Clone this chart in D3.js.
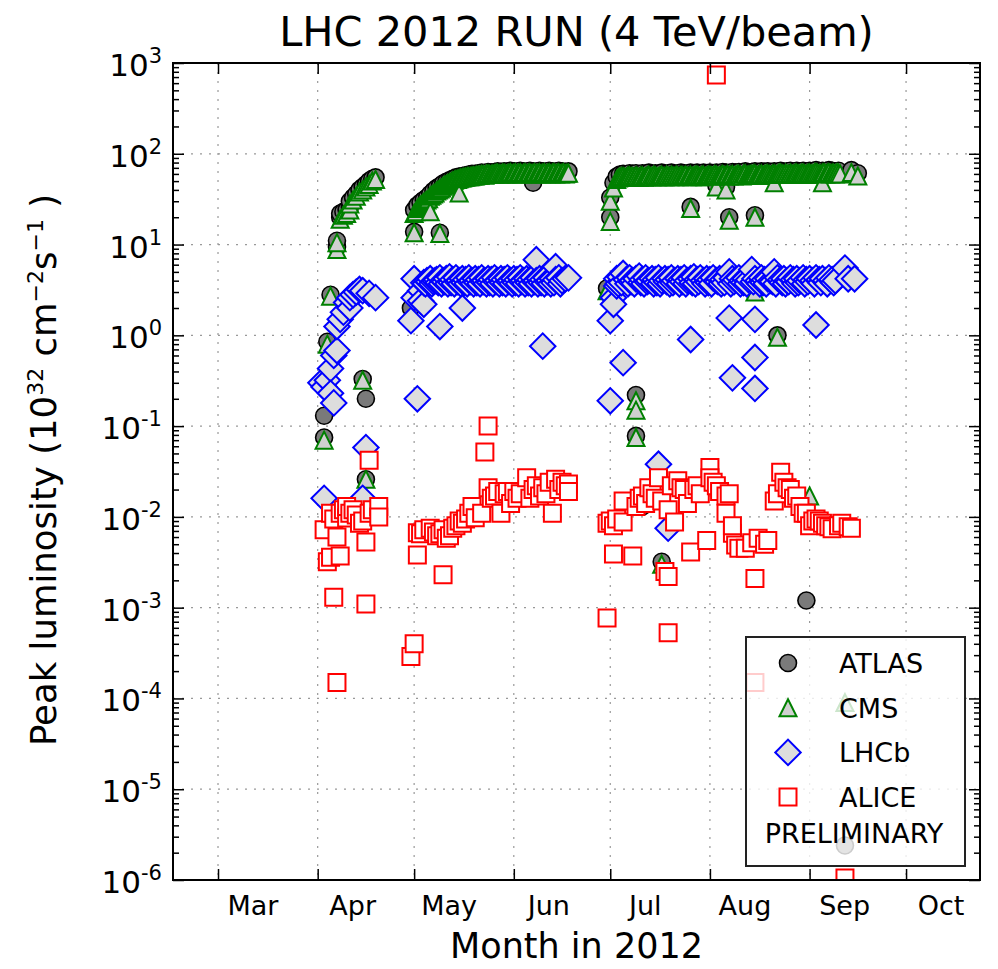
<!DOCTYPE html>
<html>
<head>
<meta charset="utf-8">
<script src="https://cdn.jsdelivr.net/npm/d3@7"></script>
<style>
body { margin: 0; background: #fff; }
svg { font-family: "DejaVu Sans", sans-serif; }
</style>
</head>
<body>
<svg id="chart" width="998" height="969"></svg>
<script>
// peak luminosity per fill, in 1e32 cm^-2 s^-1 ("MM-DD" or "MM-DD HH")
const atlas = [
  ["04-03",0.13],["04-03",0.075],["04-04",0.85],["04-05",2.8],["04-07",9.4],["04-07",11],
  ["04-08",20],["04-08",22],["04-09",23],["04-10",24],["04-11",26],["04-11",30],["04-12",33],
  ["04-13",36],["04-14",40],["04-15",43],["04-16",46],["04-17",50],["04-18",53],["04-19",55],
  ["04-15",0.33],["04-16",0.2],["04-16",0.026],
  ["04-30",2.0],["05-01",13.8],["05-09",13.5],
  ["05-01",24],["05-02",27],["05-03",29],["05-04",31],["05-05",33],["05-06",36],["05-07",39],
  ["05-08",42],["05-09",44],["05-10",47],["05-11",49],["05-12",51],["05-13",53],["05-14",55],
  ["05-15",56],["05-16",57],["05-17",58],["05-18",59],["05-19",60],["05-20",60],["05-21",61],
  ["05-22",62],["05-23",61],["05-24",63],["05-25",62],["05-26",63],["05-27",64],["05-28",63],
  ["05-29",64],["05-30",63],["05-31",65],["06-01",64],["06-02",63],["06-03",65],["06-04",64],
  ["06-05",63],["06-06",65],["06-07",48],["06-07",64],["06-08",63],["06-09",65],["06-10",64],
  ["06-11",63],["06-12",65],["06-13",64],["06-14",63],["06-15",65],["06-16",64],["06-17",63],["06-18",64],
  ["06-30",3.3],["07-01",20],["07-01",33],["07-02",48],["07-03",56],["07-04",59],["07-05",60],
  ["07-06",59],["07-07",61],["07-08",60],["07-09",0.22],["07-09",0.078],["07-09",61],["07-10",59],
  ["07-11",0.013],["07-11",61],["07-12",60],["07-13",62],["07-14",60],["07-15",61],["07-16",60],
  ["07-17",0.0032],["07-17",62],["07-18",60],["07-19",61],["07-20",62],["07-21",60],["07-22",61],
  ["07-23",62],["07-24",61],["07-25",60],["07-26",26],["07-26",62],["07-27",61],["07-28",62],
  ["07-29",60],["07-30",62],["07-31",61],["08-01",62],["08-02",61],["08-03",45],["08-03",62],
  ["08-04",61],["08-05",63],["08-06",43],["08-06",62],["08-07",20],["08-07",61],["08-08",63],
  ["08-09",62],["08-10",63],["08-11",61],["08-12",64],["08-13",62],["08-14",63],["08-15",21],
  ["08-15",64],["08-16",62],["08-17",64],["08-18",63],["08-19",64],["08-20",62],["08-21",64],
  ["08-22",1.0],["08-22",63],["08-23",65],["08-24",63],["08-25",64],["08-26",65],["08-27",63],
  ["08-28",65],["08-29",64],["08-30",65],["08-31",0.0012],["08-31",63],["09-01",65],["09-02",64],
  ["09-03",66],["09-04",64],["09-05",65],["09-06",64],["09-07",66],["09-08",65],["09-09",64],
  ["09-10",65],["09-12",2.4e-6],["09-14",66],["09-16",61]
];
const cms = [
  ["04-03",0.07],["04-04",0.8],["04-05",2.7],["04-07",8.8],["04-07",10.5],["04-08",19],
  ["04-09",21],["04-10",22],["04-11",24],["04-11",28],["04-12",31],["04-13",34],["04-14",38],
  ["04-15",40],["04-16",43],["04-17",46],["04-18",50],["04-19",52],["04-15",0.32],["04-16",0.026],
  ["05-01",13.5],["05-09",13.2],["05-01",22],["05-02",25],["05-03",27],["05-04",29],["05-05",31],
  ["05-06",23],["05-06",34],["05-07",36],["05-08",39],["05-09",41],["05-10",44],["05-11",46],
  ["05-12",48],["05-13",50],["05-14",52],["05-15",37],["05-15",53],["05-16",54],["05-17",55],
  ["05-18",56],["05-19",57],["05-20",57],["05-21",58],["05-22",59],["05-23",58],["05-24",60],
  ["05-25",59],["05-26",60],["05-27",61],["05-28",60],["05-29",61],["05-30",60],["05-31",62],
  ["06-01",61],["06-02",60],["06-03",62],["06-04",61],["06-05",60],["06-06",62],["06-07",61],
  ["06-08",60],["06-09",62],["06-10",61],["06-11",60],["06-12",62],["06-13",61],["06-14",60],
  ["06-15",62],["06-16",61],["06-17",60],["06-18",61],
  ["05-01 12",23],["05-02 12",26],["05-03 12",28],["05-04 12",30],["05-05 12",32],["05-06 12",35],
  ["05-07 12",37],["05-08 12",40],["05-09 12",42],["05-10 12",45],["05-11 12",47],["05-12 12",49],
  ["05-13 12",51],["05-14 12",52],["05-15 12",54],["05-16 12",55],["05-17 12",56],["05-18 12",56],
  ["05-19 12",57],["05-20 12",58],["05-21 12",58],["05-22 12",59],["05-23 12",60],["05-24 12",59],
  ["05-25 12",60],["05-26 12",61],["05-27 12",60],["05-28 12",61],["05-29 12",60],["05-30 12",61],
  ["05-31 12",60],["06-01 12",62],["06-02 12",61],["06-03 12",60],["06-04 12",62],["06-05 12",61],
  ["06-06 12",60],["06-07 12",62],["06-08 12",61],["06-09 12",60],["06-10 12",62],["06-11 12",61],
  ["06-12 12",60],["06-13 12",62],["06-14 12",61],["06-15 12",60],["06-16 12",62],["06-17 12",61],
  ["06-30",3.1],["07-01",18],["07-01",30],["07-02",42],["07-03",52],["07-04",55],["07-05",56],
  ["07-06",55],["07-07",57],["07-08",56],["07-09",0.19],["07-09",0.15],["07-09",0.075],["07-09",57],
  ["07-10",55],["07-11",57],["07-12",56],["07-13",58],["07-14",56],["07-15",57],["07-16",56],
  ["07-17",0.003],["07-17",58],["07-18",56],["07-19",57],["07-20",58],["07-21",56],["07-22",57],
  ["07-23",58],["07-24",57],["07-25",56],["07-26",25],["07-26",58],["07-27",57],["07-28",58],
  ["07-29",56],["07-30",58],["07-31",57],["08-01",58],["08-02",57],["08-03",43],["08-03",58],
  ["08-04",57],["08-05",59],["08-06",40],["08-06",58],["08-07",18.5],["08-07",57],["08-08",59],
  ["08-09",58],["08-10",59],["08-11",57],["08-12",60],["08-13",58],["08-14",59],["08-15",20],
  ["08-15",3.0],["08-15",60],["08-16",58],["08-17",60],["08-18",59],["08-19",60],["08-20",58],
  ["08-21",48],["08-21",60],["08-22",0.95],["08-22",59],["08-23",61],["08-24",59],["08-25",60],
  ["08-26",61],["08-27",59],["08-28",61],["08-29",60],["08-30",61],["08-31",59],["09-01",0.017],
  ["09-01",61],["09-02",60],["09-03",62],["09-04",60],["09-05",48],["09-05",61],["09-06",60],
  ["09-07",62],["09-08",61],["09-09",60],["09-10",61],["09-12",9e-5],["09-14",62],["09-16",57],
  ["07-03 12",54],["07-04 12",56],["07-05 12",55],["07-06 12",57],["07-07 12",56],["07-08 12",55],
  ["07-09 12",56],["07-10 12",57],["07-11 12",55],["07-12 12",57],["07-13 12",56],["07-14 12",58],
  ["07-15 12",56],["07-16 12",57],["07-17 12",56],["07-18 12",58],["07-19 12",56],["07-20 12",57],
  ["07-21 12",58],["07-22 12",56],["07-23 12",57],["07-24 12",58],["07-25 12",57],["07-26 12",56],
  ["07-27 12",58],["07-28 12",57],["07-29 12",58],["07-30 12",56],["07-31 12",58],["08-01 12",57],
  ["08-02 12",59],["08-03 12",57],["08-04 12",58],["08-05 12",57],["08-06 12",59],["08-07 12",58],
  ["08-08 12",57],["08-09 12",59],["08-10 12",58],["08-11 12",60],["08-12 12",58],["08-13 12",59],
  ["08-14 12",60],["08-15 12",58],["08-16 12",59],["08-17 12",58],["08-18 12",60],["08-19 12",59],
  ["08-20 12",60],["08-21 12",59],["08-22 12",61],["08-23 12",60],["08-24 12",61],["08-25 12",59],
  ["08-26 12",60],["08-27 12",61],["08-28 12",60],["08-29 12",61],["08-30 12",60],["08-31 12",61],
  ["09-01 12",60],["09-02 12",62],["09-03 12",61],["09-04 12",60],["09-05 12",62],["09-06 12",61],
  ["09-07 12",60],["09-08 12",61],["09-09 12",62],["09-10 12",60]
];
const lhcb = [
  ["04-02",0.3],["04-03",0.016],["04-03",0.27],["04-04",0.32],["04-05",0.43],["04-05",0.23],
  ["04-06",0.18],["04-06",0.6],["04-07",0.68],["04-07",1.25],["04-08",1.5],["04-09",1.8],
  ["04-10",2.3],["04-11",2.0],["04-11",2.6],["04-12",2.8],["04-13",3.0],["04-14",3.2],
  ["04-15",3.1],["04-15",0.016],["04-16",0.058],["04-17",2.9],["04-19",2.6],
  ["04-30",1.45],["05-01",4.2],["05-01",2.6],["05-02",0.2],["05-03",3.1],["05-03",2.4],
  ["05-04",2.2],["05-09",1.25],["05-16",2.0],
  ["05-04",3.8],["05-05",4.0],["05-06",4.2],["05-07",3.9],["05-08",4.1],["05-09",4.3],
  ["05-10",4.0],["05-11",4.2],["05-12",4.4],["05-13",4.1],["05-14",4.3],["05-15",4.0],
  ["05-16",4.2],["05-17",4.1],["05-18",4.3],["05-19",4.0],["05-20",4.2],["05-21",4.1],
  ["05-22",4.3],["05-23",4.0],["05-24",4.2],["05-25",4.1],["05-26",4.3],["05-27",4.0],
  ["05-28",4.2],["05-29",4.1],["05-30",4.3],["05-31",4.0],["06-01",4.2],["06-02",4.1],
  ["06-03",4.3],["06-04",4.0],["06-05",4.2],["06-06",4.1],["06-07",4.3],["06-08",6.8],
  ["06-08",4.0],["06-09",4.2],["06-10",0.76],["06-10",4.1],["06-11",4.3],["06-12",4.0],
  ["06-13",4.2],["06-14",5.7],["06-14",4.1],["06-15",4.3],["06-16",4.0],["06-17",4.2],["06-18",4.3],
  ["05-04 12",3.7],["05-05 12",3.9],["05-06 12",3.7],["05-07 12",4.0],["05-08 12",3.8],["05-09 12",3.7],
  ["05-10 12",3.9],["05-11 12",3.7],["05-12 12",3.8],["05-13 12",3.7],["05-14 12",3.9],["05-15 12",3.7],
  ["05-16 12",3.8],["05-17 12",3.7],["05-18 12",3.9],["05-19 12",3.7],["05-20 12",3.8],["05-21 12",3.7],
  ["05-22 12",3.9],["05-23 12",3.7],["05-24 12",3.8],["05-25 12",3.7],["05-26 12",3.9],["05-27 12",3.7],
  ["05-28 12",3.8],["05-29 12",3.7],["05-30 12",3.9],["05-31 12",3.7],["06-01 12",3.8],["06-02 12",3.7],
  ["06-03 12",3.9],["06-04 12",3.7],["06-05 12",3.8],["06-06 12",3.7],["06-07 12",3.9],["06-08 12",3.7],
  ["06-09 12",3.8],["06-10 12",3.7],["06-11 12",3.9],["06-12 12",3.7],["06-13 12",3.8],["06-15 12",3.7],
  ["07-01",0.19],["07-01",1.45],["07-02",2.6],["07-02",2.2],["07-03",3.5],["07-05",0.5],
  ["07-16",0.038],["07-19",0.0075],["07-26",0.9],["08-07",1.55],["08-08",0.34],["08-15",1.5],
  ["08-15",0.57],["08-15",0.26],["09-03",1.3],
  ["07-03",4.2],["07-04",4.4],["07-05",4.8],["07-06",4.1],["07-07",4.3],["07-08",4.0],
  ["07-09",4.2],["07-10",4.5],["07-11",4.1],["07-12",4.3],["07-13",4.0],["07-14",4.2],
  ["07-15",4.1],["07-16",4.3],["07-17",4.0],["07-18",4.2],["07-19",4.1],["07-20",4.3],
  ["07-21",4.0],["07-22",4.2],["07-23",4.1],["07-24",4.3],["07-25",4.0],["07-26",4.2],
  ["07-27",4.4],["07-28",4.1],["07-29",4.3],["07-30",4.0],["07-31",4.2],["08-01",4.1],
  ["08-02",4.3],["08-03",4.0],["08-04",4.2],["08-05",4.1],["08-06",4.3],["08-07",5.0],
  ["08-08",4.2],["08-09",4.1],["08-10",4.3],["08-11",4.0],["08-12",4.2],["08-13",4.1],
  ["08-14",5.3],["08-15",4.2],["08-16",4.0],["08-17",4.3],["08-18",4.1],["08-19",4.2],
  ["08-20",4.0],["08-21",5.0],["08-22",4.3],["08-23",4.1],["08-24",4.2],["08-25",4.0],
  ["08-26",4.3],["08-27",4.1],["08-28",4.2],["08-29",4.0],["08-30",4.3],["08-31",4.1],
  ["09-01",4.2],["09-02",4.0],["09-03",4.3],["09-04",4.1],["09-05",4.2],["09-06",4.0],
  ["09-07",4.3],["09-08",4.1],["09-09",4.0],["09-12",5.5],["09-13",4.2],["09-15",4.2],
  ["07-03 12",3.7],["07-04 12",3.8],["07-06 12",3.7],["07-07 12",3.9],["07-08 12",3.7],["07-10 12",3.8],
  ["07-11 12",3.7],["07-12 12",3.9],["07-14 12",3.7],["07-15 12",3.8],["07-16 12",3.7],["07-18 12",3.9],
  ["07-19 12",3.7],["07-20 12",3.8],["07-22 12",3.7],["07-23 12",3.9],["07-24 12",3.7],["07-26 12",3.8],
  ["07-27 12",3.7],["07-28 12",3.9],["07-30 12",3.7],["07-31 12",3.8],["08-01 12",3.7],["08-03 12",3.9],
  ["08-04 12",3.7],["08-05 12",3.8],["08-07 12",3.7],["08-08 12",3.9],["08-10 12",3.7],["08-11 12",3.8],
  ["08-12 12",3.7],["08-14 12",3.9],["08-16 12",3.7],["08-17 12",3.8],["08-18 12",3.7],["08-20 12",3.9],
  ["08-21 12",3.7],["08-23 12",3.8],["08-24 12",3.7],["08-25 12",3.9],["08-27 12",3.7],["08-28 12",3.8],
  ["08-30 12",3.7],["08-31 12",3.9],["09-02 12",3.7],["09-04 12",3.8],["09-06 12",3.7],["09-08 12",3.8]
];
const alice = [
  ["04-03",0.0072],["04-04",0.0032],["04-05",0.0036],["04-05",0.011],["04-06",0.0013],
  ["04-06",0.0095],["04-07",0.006],["04-07",0.00015],["04-08",0.0037],["04-08",0.011],
  ["04-09",0.012],["04-10",0.0097],["04-10",0.013],["04-11",0.011],["04-12",0.012],
  ["04-13",0.0105],["04-14",0.0085],["04-15",0.009],["04-16",0.0053],["04-16",0.0011],
  ["04-17",0.042],["04-17",0.011],["04-18",0.012],["04-20",0.013],["04-20",0.01],
  ["04-30",0.00029],["05-01",0.0004],["05-02",0.0038],["05-02",0.0067],["05-03",0.0065],
  ["05-04",0.0072],["05-06",0.0075],["05-07",0.0068],["05-08",0.0062],["05-09",0.0065],
  ["05-10",0.0023],["05-10",0.0072],["05-11",0.0058],["05-12",0.0062],["05-13",0.0075],
  ["05-14",0.008],["05-15",0.009],["05-16",0.0085],["05-17",0.0095],["05-18",0.011],
  ["05-19",0.013],["05-20",0.0098],["05-22",0.011],["05-23",0.052],["05-24",0.1],
  ["05-24",0.021],["05-25",0.016],["05-26",0.017],["05-27",0.019],["05-28",0.011],
  ["05-29",0.018],["05-30",0.019],["05-31",0.014],["06-01",0.019],["06-02",0.016],
  ["06-03",0.018],["06-05",0.027],["06-06",0.016],["06-07",0.02],["06-08",0.022],
  ["06-09",0.017],["06-10",0.021],["06-11",0.018],["06-12",0.024],["06-13",0.011],
  ["06-14",0.026],["06-15",0.02],["06-16",0.024],["06-17",0.022],["06-18",0.023],["06-18",0.019],
  ["06-30",0.00077],["06-30",0.0085],["07-01",0.009],["07-02",0.0039],["07-02",0.008],
  ["07-03",0.0095],["07-05",0.015],["07-05",0.0088],["07-08",0.0037],["07-09",0.013],
  ["07-10",0.016],["07-11",0.017],["07-12",0.014],["07-13",0.021],["07-14",0.018],
  ["07-15",0.016],["07-16",0.027],["07-17",0.015],["07-18",0.0025],["07-19",0.0022],
  ["07-19",0.00053],["07-19",0.012],["07-20",0.022],["07-21",0.0088],["07-22",0.025],
  ["07-23",0.021],["07-24",0.02],["07-25",0.014],["07-26",0.0041],["07-27",0.02],
  ["07-28",0.022],["07-29",0.018],["07-31",0.0055],["08-01",0.035],["08-01",0.027],
  ["08-02",0.024],["08-03",0.022],["08-03",738],["08-04",0.019],["08-06",0.017],
  ["08-06",0.011],["08-07",0.018],["08-08",0.0066],["08-08",0.008],["08-09",0.0049],
  ["08-10",0.0045],["08-12",0.0045],["08-14",0.0052],["08-15",0.0021],["08-15",0.00015],
  ["08-16",0.0058],["08-18",0.005],["08-19",0.0055],["08-21",0.015],["08-22",0.018],
  ["08-23",0.031],["08-24",0.024],["08-25",0.021],["08-26",0.02],["08-27",0.016],
  ["08-28",0.017],["08-29",0.013],["08-30",0.011],["08-31",0.011],["09-01",0.008],
  ["09-02",0.009],["09-03",0.0095],["09-04",0.009],["09-05",0.0085],["09-06",0.008],
  ["09-07",0.0078],["09-08",0.0074],["09-10",0.008],["09-11",0.0085],["09-12",1.05e-6],
  ["09-13",0.0078],["09-14",0.0075]
];
const monthTicks = ["03-01","04-01","05-01","06-01","07-01","08-01","09-01","10-01"];
const decades = [-6,-5,-4,-3,-2,-1,0,1,2,3];
const seriesNames = ["ATLAS","CMS","LHCb","ALICE"];

const plotLeft = 173, plotRight = 980, plotTop = 63, plotBottom = 880;
const svg = d3.select('#chart');
const parseDay = d3.utcParse('%Y-%m-%d');
const parseHour = d3.utcParse('%Y-%m-%d %H');
const day = (s) => s.length > 5 ? parseHour('2012-' + s) : parseDay('2012-' + s);

const x = d3.scaleUtc().domain([day('02-16'), day('10-24')]).range([plotLeft, plotRight]);
const y = d3.scaleLog().domain([1e-6, 1e3]).range([plotBottom, plotTop]);

// grid
const grid = svg.append('g').attr('stroke', '#999').attr('stroke-width', 1.2).attr('stroke-dasharray', '2,7');
grid.selectAll('.vg').data(monthTicks).enter().append('line')
  .attr('x1', d => x(day(d))).attr('x2', d => x(day(d)))
  .attr('y1', plotTop).attr('y2', plotBottom);
grid.selectAll('.hg').data(decades).enter().append('line')
  .attr('x1', plotLeft).attr('x2', plotRight)
  .attr('y1', d => y(Math.pow(10, d))).attr('y2', d => y(Math.pow(10, d)));

// markers
const triangle = {
  draw(ctx, size) {
    const r = Math.sqrt(size) / 2;
    ctx.moveTo(0, -r); ctx.lineTo(r, r); ctx.lineTo(-r, r); ctx.closePath();
  }
};
const styles = {
  ATLAS: {path: d3.symbol().type(d3.symbolCircle).size(Math.PI * 8.5 * 8.5)(), fill: '#7a7a7a', stroke: '#000', rot: 0, sw: 1.6},
  CMS: {path: d3.symbol().type(triangle).size(17 * 17)(), fill: '#d0d0d0', stroke: '#008000', rot: 0, sw: 2},
  LHCb: {path: d3.symbol().type(d3.symbolSquare).size(18 * 18)(), fill: '#dddddd', stroke: '#0000ff', rot: 45, sw: 2},
  ALICE: {path: d3.symbol().type(d3.symbolSquare).size(17 * 17)(), fill: '#ffffff', stroke: '#ff0000', rot: 0, sw: 2}
};

svg.append('clipPath').attr('id', 'plotclip').append('rect')
  .attr('x', plotLeft).attr('y', plotTop).attr('width', plotRight - plotLeft).attr('height', plotBottom - plotTop);
const plot = svg.append('g').attr('clip-path', 'url(#plotclip)');

[[atlas, 'ATLAS'], [cms, 'CMS'], [lhcb, 'LHCb'], [alice, 'ALICE']].forEach(([data, name]) => {
  const s = styles[name];
  const sorted = data.slice().sort((a, b) => day(a[0]) - day(b[0]));
  plot.append('g').selectAll('path').data(sorted).enter().append('path')
    .attr('d', s.path)
    .attr('transform', d => `translate(${x(day(d[0]))},${y(d[1])}) rotate(${s.rot})`)
    .attr('fill', s.fill).attr('stroke', s.stroke).attr('stroke-width', s.sw);
});

// axes, ticks pointing inward
const monthDates = monthTicks.map(day);
const minorVals = [];
decades.slice(0, -1).forEach(e => { for (let k = 2; k < 10; k++) minorVals.push(k * Math.pow(10, e)); });
const majorVals = decades.map(e => Math.pow(10, e));

function styleAxis(g) {
  g.select('.domain').remove();
  g.selectAll('line').attr('stroke', '#000').attr('stroke-width', 1.5);
}
svg.append('g').attr('transform', `translate(0,${plotBottom})`)
  .call(d3.axisBottom(x).tickValues(monthDates).tickSize(-11).tickFormat(''))
  .call(styleAxis);
svg.append('g').attr('transform', `translate(0,${plotTop})`)
  .call(d3.axisTop(x).tickValues(monthDates).tickSize(-11).tickFormat(''))
  .call(styleAxis);
svg.append('g').attr('transform', `translate(${plotLeft},0)`)
  .call(d3.axisLeft(y).tickValues(majorVals).tickSize(-11).tickFormat(''))
  .call(styleAxis);
svg.append('g').attr('transform', `translate(${plotLeft},0)`)
  .call(d3.axisLeft(y).tickValues(minorVals).tickSize(-6).tickFormat(''))
  .call(styleAxis);
svg.append('g').attr('transform', `translate(${plotRight},0)`)
  .call(d3.axisRight(y).tickValues(majorVals).tickSize(-11).tickFormat(''))
  .call(styleAxis);
svg.append('g').attr('transform', `translate(${plotRight},0)`)
  .call(d3.axisRight(y).tickValues(minorVals).tickSize(-6).tickFormat(''))
  .call(styleAxis);

svg.append('rect').attr('x', plotLeft).attr('y', plotTop).attr('width', plotRight - plotLeft).attr('height', plotBottom - plotTop)
  .attr('fill', 'none').attr('stroke', '#000').attr('stroke-width', 2);

// month labels
const fmt = d3.utcFormat('%b');
svg.append('g').selectAll('text').data(monthDates).enter().append('text')
  .attr('x', d => x(d) + 35).attr('y', plotBottom + 35)
  .attr('text-anchor', 'middle').attr('font-size', 27).attr('fill', '#000')
  .text(d => fmt(d));

// decade labels
const yl = svg.append('g').selectAll('text').data(decades).enter().append('text')
  .attr('x', 162).attr('y', d => y(Math.pow(10, d)) + 13)
  .attr('text-anchor', 'end').attr('font-size', 31).attr('fill', '#000');
yl.append('tspan').text('10');
yl.append('tspan').attr('dy', -13).attr('font-size', 21).text(d => d < 0 ? '-' + (-d) : d);

// titles
svg.append('text').attr('x', (plotLeft + plotRight) / 2).attr('y', 46).attr('text-anchor', 'middle')
  .attr('font-size', 41.5).text('LHC 2012 RUN (4 TeV/beam)');
svg.append('text').attr('x', (plotLeft + plotRight) / 2).attr('y', 958).attr('text-anchor', 'middle')
  .attr('font-size', 35).text('Month in 2012');
const ylab = svg.append('text').attr('transform', 'translate(56,470) rotate(-90)')
  .attr('text-anchor', 'middle').attr('font-size', 35.5);
ylab.append('tspan').text('Peak luminosity (10');
ylab.append('tspan').attr('dy', -13).attr('font-size', 22).text('32');
ylab.append('tspan').attr('dy', 13).text(' cm');
ylab.append('tspan').attr('dy', -13).attr('font-size', 22).text('\u22122');
ylab.append('tspan').attr('dy', 13).text('s');
ylab.append('tspan').attr('dy', -13).attr('font-size', 22).text('\u22121');
ylab.append('tspan').attr('dy', 13).text(' )');

// legend
const lg = svg.append('g');
lg.append('rect').attr('x', 746).attr('y', 637).attr('width', 219).attr('height', 229)
  .attr('fill', '#fff').attr('fill-opacity', 0.8).attr('stroke', '#222').attr('stroke-width', 2);
const rows = lg.selectAll('.row').data(seriesNames).enter().append('g')
  .attr('transform', (d, i) => `translate(788,${663 + i * 44.7})`);
rows.append('path')
  .attr('d', d => styles[d].path)
  .attr('transform', d => `rotate(${styles[d].rot})`)
  .attr('fill', d => styles[d].fill).attr('stroke', d => styles[d].stroke).attr('stroke-width', d => styles[d].sw);
rows.append('text').attr('x', 51).attr('y', 10).attr('font-size', 27).text(d => d);
lg.append('text').attr('x', 854).attr('y', 843).attr('text-anchor', 'middle').attr('font-size', 27).text('PRELIMINARY');
</script>
</body>
</html>
